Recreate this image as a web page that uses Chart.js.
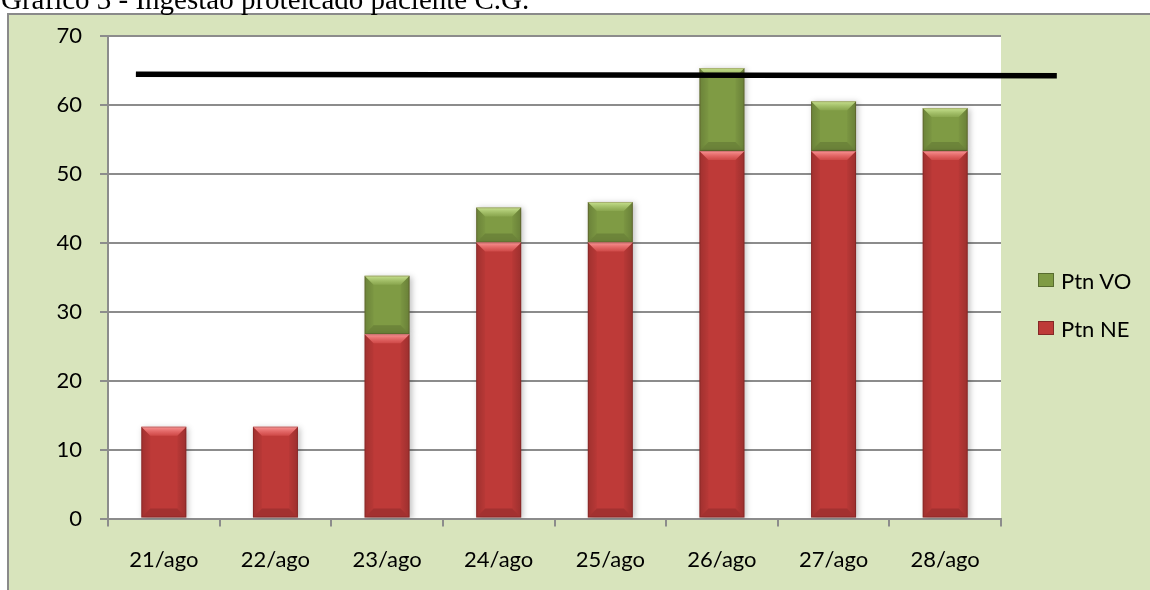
<!DOCTYPE html>
<html lang="pt">
<head>
<meta charset="utf-8">
<title>Ingestão proteica</title>
<script src="https://cdn.jsdelivr.net/npm/chart.js@4/dist/chart.umd.min.js"></script>
<style>
  html, body { margin: 0; padding: 0; background: #ffffff; overflow: hidden; }
  body { width: 1150px; height: 590px; position: relative; }
  #area { position: absolute; left: 0; top: 0; width: 1150px; height: 590px; }
  #titulo {
    position: absolute; left: 1px; top: -15px;
    font-family: "Liberation Serif", "Times New Roman", serif;
    font-size: 29px; line-height: 1; color: #000; white-space: nowrap;
  }
  #legenda {
    position: absolute; left: 1038px; top: 256px;
    font-family: Lato, "Open Sans", sans-serif; font-size: 22px; color: #000;
  }
  .item { display: flex; align-items: center; height: 48px; }
  .caixa { width: 16px; height: 14px; margin-right: 7px; box-sizing: border-box; }
</style>
</head>
<body>
<div id="area"><canvas id="grafico"></canvas></div>
<div id="titulo">Gráfico 3 - Ingestão proteicado paciente C.G.</div>
<div id="legenda"></div>
<script>
// Dias de acompanhamento
const dias = ['21/ago', '22/ago', '23/ago', '24/ago', '25/ago', '26/ago', '27/ago', '28/ago'];
// Proteína por nutrição enteral (g)
const ptnNE = [13.3, 13.3, 26.7, 40, 40, 53.3, 53.3, 53.3];
// Proteína por via oral (g)
const ptnVO = [0, 0, 8.5, 5.1, 5.9, 12, 7.2, 6.2];
// Meta proteica (g): valor no início e no fim da linha
const metaProteica = [64.4, 64.2];
// Marcas do eixo Y
const ticksY = [0, 10, 20, 30, 40, 50, 60, 70];

const corNE = '#BE3A38';
const corVO = '#7F9B44';
const cinza = '#8c8c8c';
const fonteEixo = { family: 'Lato, "Open Sans", sans-serif', size: 22 };

// Moldura verde do gráfico e fundo branco da área de plotagem
const fundo = {
  id: 'fundo',
  beforeDraw(chart) {
    const { ctx, chartArea: a, width, height } = chart;
    ctx.save();
    ctx.fillStyle = '#8a8a8a';
    ctx.fillRect(7, 13, width - 7, height - 13);
    ctx.fillStyle = '#D8E4BC';
    ctx.fillRect(9, 15, width - 9, height - 15);
    ctx.fillStyle = '#ffffff';
    ctx.fillRect(a.left, a.top, a.right - a.left, a.bottom - a.top);
    ctx.restore();
  }
};

function poligono(ctx, pts) {
  ctx.beginPath();
  ctx.moveTo(pts[0][0], pts[0][1]);
  for (let i = 1; i < pts.length; i++) ctx.lineTo(pts[i][0], pts[i][1]);
  ctx.closePath();
  ctx.fill();
}

// Sombra suave e chanfro nas colunas
const chanfro = {
  id: 'chanfro',
  beforeDatasetDraw(chart, args) {
    if (args.meta.type !== 'bar') return;
    const ctx = chart.ctx;
    ctx.shadowColor = 'rgba(0,0,0,0.25)';
    ctx.shadowBlur = 6;
    ctx.shadowOffsetX = 2;
    ctx.shadowOffsetY = 1;
  },
  afterDatasetDraw(chart, args) {
    const ctx = chart.ctx;
    ctx.shadowColor = 'rgba(0,0,0,0)';
    ctx.shadowBlur = 0;
    ctx.shadowOffsetX = 0;
    ctx.shadowOffsetY = 0;
    if (args.meta.type !== 'bar') return;
    const ehVerde = chart.data.datasets[args.index].label === 'Ptn VO';
    ctx.save();
    args.meta.data.forEach(el => {
      const p = el.getProps(['x', 'y', 'base', 'width'], true);
      const l = p.x - p.width / 2, r = p.x + p.width / 2;
      const t = Math.min(p.y, p.base), b = Math.max(p.y, p.base);
      const h = b - t;
      if (h < 1) return;
      const s = Math.min(9, h / 2);
      // laterais com leve gradiente
      const gl = ctx.createLinearGradient(l, 0, l + s, 0);
      gl.addColorStop(0, 'rgba(0,0,0,0.16)');
      gl.addColorStop(1, 'rgba(0,0,0,0.03)');
      ctx.fillStyle = gl;
      poligono(ctx, [[l, t], [l + s, t + s], [l + s, b - s], [l, b]]);
      const gr = ctx.createLinearGradient(r, 0, r - s, 0);
      gr.addColorStop(0, 'rgba(0,0,0,0.18)');
      gr.addColorStop(1, 'rgba(0,0,0,0.03)');
      ctx.fillStyle = gr;
      poligono(ctx, [[r, t], [r - s, t + s], [r - s, b - s], [r, b]]);
      // base
      ctx.fillStyle = 'rgba(0,0,0,0.14)';
      poligono(ctx, [[l, b], [l + s, b - s], [r - s, b - s], [r, b]]);
      // topo iluminado
      const gt = ctx.createLinearGradient(0, t, 0, t + s);
      if (ehVerde) {
        gt.addColorStop(0, 'rgba(225,250,170,0.75)');
        gt.addColorStop(1, 'rgba(200,230,140,0.15)');
      } else {
        gt.addColorStop(0, 'rgba(255,160,160,0.9)');
        gt.addColorStop(1, 'rgba(255,120,120,0.25)');
      }
      ctx.fillStyle = gt;
      poligono(ctx, [[l, t], [r, t], [r - s, t + s], [l + s, t + s]]);
      // contorno discreto
      ctx.strokeStyle = 'rgba(60,10,10,0.22)';
      ctx.lineWidth = 1;
      ctx.strokeRect(l + 0.5, t + 0.5, r - l - 1, h - 1);
    });
    ctx.restore();
  }
};

const grafico = new Chart(document.getElementById('grafico'), {
  type: 'bar',
  data: {
    labels: dias,
    datasets: [
      {
        label: 'Ptn NE', data: ptnNE, backgroundColor: corNE,
        borderWidth: 0, order: 1, stack: 'ptn', grouped: false
      },
      {
        label: 'Ptn VO', data: ptnVO, backgroundColor: corVO,
        borderWidth: 0, order: 2, stack: 'ptn', grouped: false
      },
      {
        type: 'line', label: 'Meta',
        data: [{ x: -0.25, y: metaProteica[0] }, { x: 8.0, y: metaProteica[1] }],
        xAxisID: 'xMeta', yAxisID: 'y',
        borderColor: '#000000', borderWidth: 5.5, pointRadius: 0,
        tension: 0, fill: false, clip: false, order: 0, stack: 'meta'
      }
    ]
  },
  options: {
    responsive: true,
    maintainAspectRatio: false,
    animation: false,
    events: [],
    layout: { padding: { top: 35.7, right: 149, bottom: 0, left: 0 } },
    datasets: { bar: { barPercentage: 0.403, categoryPercentage: 1 } },
    plugins: { legend: { display: false }, tooltip: { enabled: false }, title: { display: false } },
    scales: {
      x: {
        stacked: true,
        offset: true,
        grid: { display: true, offset: true, drawOnChartArea: false, drawTicks: true, tickLength: 8, color: cinza, lineWidth: 2 },
        border: { display: true, color: cinza, width: 2 },
        ticks: { color: '#000', font: fonteEixo, padding: 20, maxRotation: 0 },
        afterFit(scale) { scale.height = 71.5; }
      },
      xMeta: {
        type: 'linear', axis: 'x', position: 'bottom',
        min: -0.5, max: 7.5, offset: false,
        grid: { display: false, drawTicks: false },
        border: { display: false },
        ticks: { display: false },
        afterFit(scale) { scale.height = 0; }
      },
      y: {
        stacked: true,
        min: 0, max: 70,
        afterBuildTicks(scale) { scale.ticks = ticksY.map(v => ({ value: v })); },
        grid: { color: cinza, lineWidth: 2, drawTicks: true, tickLength: 8 },
        border: { display: true, color: cinza, width: 2 },
        ticks: { color: '#000', font: fonteEixo, padding: 18 },
        afterFit(scale) { scale.width = 108; }
      }
    }
  },
  plugins: [fundo, chanfro]
});

// Legenda: séries na ordem inversa do empilhamento
const legenda = document.getElementById('legenda');
grafico.data.datasets.filter(d => d.type !== 'line').slice().reverse().forEach(d => {
  const item = document.createElement('div');
  item.className = 'item';
  const caixa = document.createElement('span');
  caixa.className = 'caixa';
  caixa.style.background = d.backgroundColor;
  caixa.style.border = '1px solid rgba(0,0,0,0.3)';
  const texto = document.createElement('span');
  texto.textContent = d.label;
  item.appendChild(caixa);
  item.appendChild(texto);
  legenda.appendChild(item);
});
</script>
</body>
</html>
